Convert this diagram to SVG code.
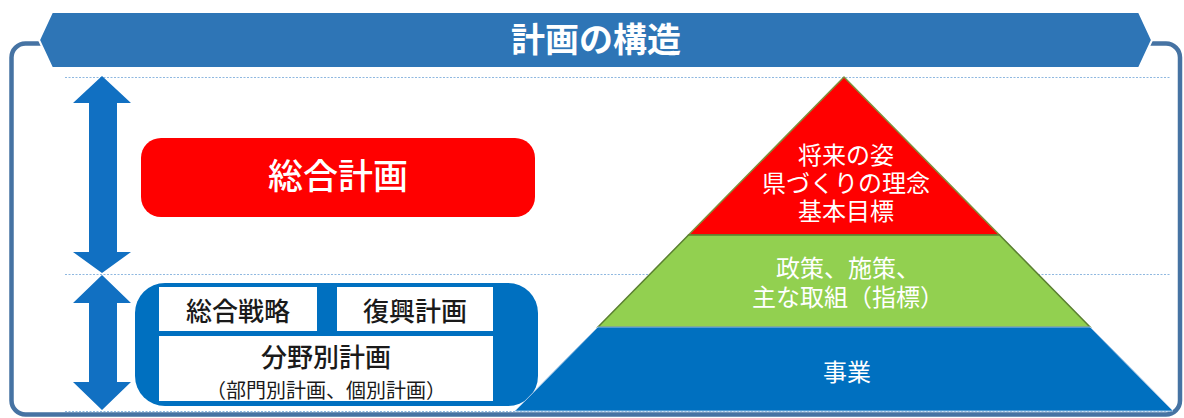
<svg xmlns="http://www.w3.org/2000/svg" width="1184" height="418" viewBox="0 0 1184 418">
<style>
text{font-family:"Noto Sans CJK JP","Noto Sans",sans-serif;text-anchor:middle}
.w{fill:#ffffff}
.k{fill:#1a1a1a}
.guide{stroke:#8fb8e0;stroke-width:1;stroke-dasharray:2 1.5;fill:none}
.arrow{fill:#1170c2}
</style>
<rect width="1184" height="418" fill="#ffffff"/>
<g id="frame">
<rect x="11.5" y="43.5" width="1168.5" height="371" rx="14" fill="none" stroke="#4673a3" stroke-width="4.5"/>
</g>
<g id="guides">
<line class="guide" x1="65" y1="77.5" x2="1171" y2="77.5"/>
<line class="guide" x1="65" y1="274.5" x2="1171" y2="274.5"/>
<line class="guide" x1="65" y1="411.5" x2="1171" y2="411.5"/>
</g>
<g id="header">
<polygon points="52,12 1139,12 1152,40 1139,68 52,68 39,40" fill="#2e75b6" stroke="#ffffff" stroke-width="2"/>
<text x="596" y="52" class="w" font-size="34" font-weight="700">計画の構造</text>
</g>
<g id="connectors">
<polygon class="arrow" points="102,76 131,103 117,103 117,252 131,252 102,273 73,252 89,252 89,103 73,103"/>
<polygon class="arrow" points="102,275 131,303 117,303 117,382 131,382 102,410 73,382 89,382 89,303 73,303"/>
</g>
<g id="sogo-keikaku">
<rect x="141" y="138" width="394" height="79" rx="20" fill="#ff0000"/>
<text x="338" y="189" class="w" font-size="35" font-weight="500">総合計画</text>
</g>
<g id="plans-group">
<rect x="135" y="283" width="403" height="123" rx="30" fill="#0070c0"/>
</g>
<g id="sogo-senryaku">
<rect x="159" y="287" width="158" height="44" fill="#ffffff"/>
<text x="238" y="321" class="k" font-size="26" font-weight="500">総合戦略</text>
</g>
<g id="fukko-keikaku">
<rect x="337" y="287" width="156" height="44" fill="#ffffff"/>
<text x="415" y="321" class="k" font-size="26" font-weight="500">復興計画</text>
</g>
<g id="bunya-keikaku">
<rect x="159" y="336" width="334" height="65" fill="#ffffff"/>
<text x="326" y="367" class="k" font-size="26" font-weight="500">分野別計画</text>
<text x="326" y="398" class="k" font-size="20">（部門別計画、個別計画）</text>
</g>
<g id="pyramid-top">
<polygon points="844,77 999.5,235 688.5,235" fill="#ff0000" stroke="#7f8f3a" stroke-width="1.5" stroke-linejoin="round"/>
<text x="846" y="164" class="w" font-size="24">将来の姿</text>
<text x="846" y="192" class="w" font-size="24">県づくりの理念</text>
<text x="846" y="220" class="w" font-size="24">基本目標</text>
</g>
<g id="pyramid-middle">
<polygon points="688.5,235 999.5,235 1090,327 598,327" fill="#92d050" stroke="#5a7f30" stroke-width="1.5"/>
<text x="848" y="277" class="w" font-size="24">政策、施策、</text>
<text x="848" y="306" class="w" font-size="24">主な取組（指標）</text>
</g>
<g id="pyramid-bottom">
<polygon points="598,327 1090,327 1173,411 515,411" fill="#0070c0" stroke="#9dc3e6" stroke-width="1"/>
<text x="847" y="381" class="w" font-size="24">事業</text>
</g>
</svg>
